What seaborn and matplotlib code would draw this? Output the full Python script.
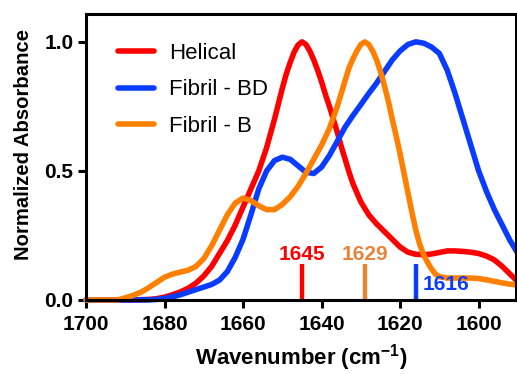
import numpy as np
import pandas as pd
import matplotlib
matplotlib.use("Agg")
import matplotlib.pyplot as plt
import seaborn as sns

# valores (cm-1, absorbancia normalizada)
wn_helical = [1700, 1696, 1692, 1688, 1686, 1684, 1682, 1680, 1678, 1676,
              1674, 1672, 1670, 1668, 1666, 1664, 1662, 1660, 1658, 1656,
              1654, 1653, 1652, 1651, 1650, 1649, 1648, 1647, 1646, 1645,
              1644, 1643, 1642, 1641, 1640, 1639, 1638, 1637, 1636, 1635,
              1634, 1633, 1632, 1630, 1628, 1626, 1624, 1622, 1620, 1618,
              1616, 1614, 1612, 1610, 1608, 1606, 1604, 1602, 1600, 1598,
              1596, 1594, 1592, 1590]
helical = [0.0, 0.0, 0.0, 0.0, 0.001, 0.002, 0.005, 0.011, 0.02, 0.031,
           0.045, 0.065, 0.093, 0.13, 0.18, 0.23, 0.29, 0.36, 0.43, 0.50,
           0.59, 0.645, 0.70, 0.76, 0.82, 0.875, 0.92, 0.96, 0.988, 1.0,
           0.99, 0.965, 0.93, 0.89, 0.845, 0.795, 0.75, 0.70, 0.65, 0.595,
           0.545, 0.495, 0.45, 0.38, 0.33, 0.295, 0.265, 0.235, 0.205, 0.185,
           0.177, 0.175, 0.178, 0.184, 0.19, 0.19, 0.188, 0.185, 0.18, 0.17,
           0.155, 0.13, 0.10, 0.07]

wn_bd = [1700, 1696, 1692, 1688, 1684, 1682, 1680, 1678, 1676, 1674,
         1672, 1670, 1668, 1666, 1664, 1662, 1660, 1658, 1656, 1654,
         1652, 1650, 1648, 1646, 1644, 1642, 1640, 1638, 1636, 1634,
         1632, 1630, 1628, 1626, 1624, 1622, 1620, 1618, 1616, 1614,
         1612, 1610, 1608, 1606, 1604, 1602, 1600, 1598, 1596, 1594,
         1592, 1590]
fibril_bd = [0.0, 0.0, 0.0, 0.0, 0.0, 0.002, 0.006, 0.012, 0.02, 0.03,
             0.04, 0.05, 0.06, 0.077, 0.11, 0.165, 0.235, 0.33, 0.43, 0.50,
             0.54, 0.553, 0.545, 0.52, 0.495, 0.49, 0.515, 0.56, 0.615, 0.67,
             0.715, 0.757, 0.80, 0.84, 0.885, 0.93, 0.965, 0.99, 1.0, 0.995,
             0.98, 0.955, 0.89, 0.80, 0.70, 0.60, 0.50, 0.42, 0.35, 0.29,
             0.23, 0.18]

wn_b = [1700, 1696, 1692, 1690, 1688, 1686, 1684, 1682, 1680, 1678,
        1676, 1674, 1672, 1670, 1668, 1666, 1664, 1662, 1660, 1658,
        1656, 1654, 1652, 1650, 1648, 1646, 1644, 1642, 1640, 1638,
        1636, 1635, 1634, 1633, 1632, 1631, 1630, 1629, 1628, 1627,
        1626, 1625, 1624, 1623, 1622, 1621, 1620, 1619, 1618, 1617,
        1616, 1615, 1614, 1613, 1612, 1611, 1610, 1608, 1606, 1604,
        1602, 1600, 1598, 1596, 1594, 1592, 1590]
fibril_b = [0.0, 0.0, 0.0, 0.008, 0.018, 0.03, 0.048, 0.068, 0.088, 0.10,
            0.108, 0.115, 0.13, 0.16, 0.21, 0.27, 0.33, 0.375, 0.395, 0.385,
            0.365, 0.35, 0.35, 0.37, 0.40, 0.44, 0.49, 0.545, 0.60, 0.665,
            0.75, 0.80, 0.85, 0.90, 0.935, 0.965, 0.99, 1.0, 0.99, 0.965,
            0.93, 0.885, 0.83, 0.77, 0.70, 0.635, 0.565, 0.49, 0.415, 0.34,
            0.27, 0.215, 0.175, 0.145, 0.12, 0.10, 0.09, 0.085, 0.085, 0.085,
            0.085, 0.083, 0.078, 0.072, 0.066, 0.061, 0.058]

series = ["Helical", "Fibril - BD", "Fibril - B"]
colores = ["#FF0000", "#0A3CFF", "#FF8000"]

picos = [1645, 1629, 1616]
picos_colores = ["#FF0000", "#E8833A", "#0A3CFF"]

x_ticks = [1700, 1680, 1660, 1640, 1620, 1600]
y_ticks = [0.0, 0.5, 1.0]
y_ticklabels = ["0.0", "0.5", "1.0"]

sns.set_style("ticks")
plt.rcParams["font.family"] = ["Liberation Sans", "DejaVu Sans"]
plt.rcParams["mathtext.fontset"] = "custom"
plt.rcParams["mathtext.bf"] = "Liberation Sans:bold"
plt.rcParams["mathtext.default"] = "bf"
# texto en negro puro
for k in ["text.color", "axes.labelcolor", "xtick.color", "ytick.color"]:
    plt.rcParams[k] = "black"

df = pd.concat([
    pd.DataFrame({"wn": wn_helical, "abs": helical, "serie": series[0]}),
    pd.DataFrame({"wn": wn_bd, "abs": fibril_bd, "serie": series[1]}),
    pd.DataFrame({"wn": wn_b, "abs": fibril_b, "serie": series[2]}),
])

fig, ax = plt.subplots(figsize=(5.17, 3.74), dpi=100)
fig.subplots_adjust(left=0.1663, right=0.998, bottom=0.198, top=0.9626)

sns.lineplot(data=df, x="wn", y="abs", hue="serie", hue_order=series,
             palette=colores, linewidth=4, sort=False, ax=ax,
             solid_capstyle="round", solid_joinstyle="round", clip_on=False)

# marcas de los picos
for p, c in zip(picos, picos_colores):
    ax.vlines(p, 0, 0.14, color=c, linewidth=3.2)
ax.text(picos[0], 0.155, str(picos[0]), color=picos_colores[0], ha="center",
        va="baseline", fontsize=15, fontweight="bold")
ax.text(picos[1], 0.155, str(picos[1]), color=picos_colores[1], ha="center",
        va="baseline", fontsize=15, fontweight="bold")
ax.text(1614.3, 0.039, str(picos[2]), color=picos_colores[2], ha="left",
        va="baseline", fontsize=15, fontweight="bold")

ax.set_xlim(1700, 1590.5)
ax.set_ylim(0, 1.108)
ax.set_xticks(x_ticks)
ax.set_yticks(y_ticks)
ax.set_yticklabels(y_ticklabels)
ax.tick_params(axis="both", direction="out", length=6, width=2.2,
               labelsize=15, pad=3, colors="black")
ax.tick_params(axis="x", pad=5)
for lab in ax.get_xticklabels() + ax.get_yticklabels():
    lab.set_fontweight("bold")
for s in ax.spines.values():
    s.set_linewidth(2.2)
    s.set_color("black")

ax.set_xlabel("Wavenumber (cm$^{-1}$)", fontsize=16, fontweight="bold", labelpad=6)
ax.set_ylabel("Normalized Absorbance", fontsize=14.6, fontweight="bold")
ax.yaxis.set_label_coords(-0.123, 0.545)

handles, labels = ax.get_legend_handles_labels()
ax.legend(handles, labels, loc="upper left", frameon=False, fontsize=16,
          handlelength=1.6, handletextpad=0.7, labelspacing=0.71,
          bbox_to_anchor=(0.028, 0.97), labelcolor="black")

plt.savefig("out.png", dpi=100)
plt.close()
